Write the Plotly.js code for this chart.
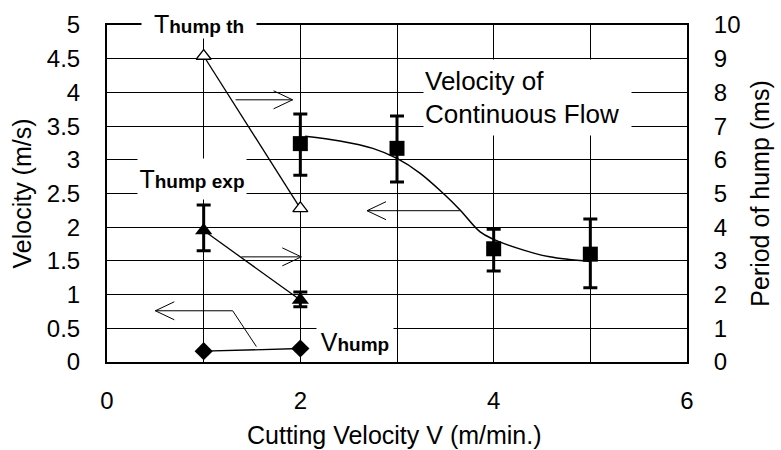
<!DOCTYPE html>
<html>
<head>
<meta charset="utf-8">
<script src="https://cdn.plot.ly/plotly-3.0.1.min.js"></script>
<style>html,body{margin:0;padding:0;background:#fff;}#chart{width:781px;height:450px;}</style>
</head>
<body>
<div id="chart"></div>
<script>
// ---- data ----
const flowX = [2, 3, 4, 5];
const flowV = [3.24, 3.17, 1.68, 1.60];
const flowErrPlus = [0.44, 0.48, 0.29, 0.52];
const flowErrMinus = [0.47, 0.50, 0.33, 0.50];

const fitX = [2.05, 2.41, 2.75, 3.0, 3.24, 3.48, 3.65, 3.86, 4.0, 4.31, 4.58, 5.0];
const fitY = [3.35, 3.28, 3.17, 3.02, 2.80, 2.50, 2.26, 1.93, 1.82, 1.66, 1.56, 1.49];

const humpX = [1, 2];
const vHump = [0.16, 0.20];
const tHumpExp = [3.90, 1.84];
const tHumpExpPlus = [0.76, 0.24];
const tHumpExpMinus = [0.60, 0.20];
const tHumpTh = [9.08, 4.56];

const xTicks = [0, 2, 4, 6];

const FONT = 'Liberation Sans, Arial, sans-serif';

const traces = [
  {x: fitX, y: fitY, mode: 'lines', line: {color: '#000', width: 1.5, shape: 'spline', smoothing: 1}, hoverinfo: 'skip'},
  {x: humpX, y: tHumpTh, yaxis: 'y2', mode: 'lines+markers',
   line: {color: '#000', width: 1.3},
   marker: {symbol: 'triangle-up', size: 13, color: '#fff', line: {color: '#000', width: 1.3}}},
  {x: humpX, y: tHumpExp, yaxis: 'y2', mode: 'lines+markers',
   line: {color: '#000', width: 1.3},
   marker: {symbol: 'triangle-up', size: 15, color: '#000'},
   error_y: {type: 'data', symmetric: false, array: tHumpExpPlus, arrayminus: tHumpExpMinus, color: '#000', thickness: 3, width: 7}},
  {x: humpX, y: vHump, mode: 'lines+markers',
   line: {color: '#000', width: 1.3},
   marker: {symbol: 'diamond', size: 14, color: '#000'}},
  {x: flowX, y: flowV, mode: 'markers',
   marker: {symbol: 'square', size: 15, color: '#000'},
   error_y: {type: 'data', symmetric: false, array: flowErrPlus, arrayminus: flowErrMinus, color: '#000', thickness: 3, width: 7}}
];

const shapes = [
  {type: 'line', xref: 'x', yref: 'y', x0: 1.30, y0: 0.76, x1: 1.545, y1: 0.23, line: {color: '#000', width: 1}}
];

// arrow = shaft in data coords + open chevron head sized in pixels
function addArrow(tipX, tipY, tailX, tailY) {
  const dir = tailX > tipX ? 1 : -1; // +1 means arrow points left
  shapes.push({type: 'line', xref: 'x', yref: 'y', x0: tailX, y0: tailY, x1: tipX, y1: tipY, line: {color: '#000', width: 1}});
  shapes.push({type: 'path', xref: 'x', yref: 'y', xsizemode: 'pixel', ysizemode: 'pixel', xanchor: tipX, yanchor: tipY,
    path: 'M ' + (19 * dir) + ',9 L 0,0 L ' + (19 * dir) + ',-9', line: {color: '#000', width: 1}});
}
addArrow(1.92, 3.89, 1.33, 3.89);
addArrow(2.69, 2.245, 3.65, 2.245);
addArrow(2.01, 1.56, 1.39, 1.56);
addArrow(0.50, 0.76, 1.30, 0.76);

const annotations = [
  {x: 0.95, y: 1.003, xref: 'x', yref: 'paper', xanchor: 'center', yanchor: 'middle', showarrow: false, bgcolor: '#fff', width: 112, height: 27,
   text: 'T<b><span style="font-size:19px">hump th</span></b>', font: {family: FONT, size: 25, color: '#000'}},
  {x: 0.88, y: 2.72, xref: 'x', yref: 'y', showarrow: false, bgcolor: '#fff', width: 106, height: 38,
   text: 'T<b><span style="font-size:19px">hump exp</span></b>', font: {family: FONT, size: 25, color: '#000'}},
  {x: 2.57, y: 0.30, xref: 'x', yref: 'y', showarrow: false, bgcolor: '#fff', width: 74, height: 32,
   text: 'V<b><span style="font-size:19px">hump</span></b>', font: {family: FONT, size: 25, color: '#000'}},
  {x: 4.35, y: 3.93, xref: 'x', yref: 'y', showarrow: false, bgcolor: '#fff', width: 205, height: 73, align: 'left',
   text: 'Velocity of<br>Continuous Flow', font: {family: FONT, size: 26, color: '#000'}},
  {x: 0.495, y: -0.218, xref: 'paper', yref: 'paper', xanchor: 'center', yanchor: 'middle', showarrow: false,
   text: 'Cutting Velocity V (m/min.)', font: {family: FONT, size: 25, color: '#000'}}
];

const layout = {
  width: 781, height: 450,
  margin: {l: 107, r: 94, t: 25, b: 88},
  paper_bgcolor: '#fff', plot_bgcolor: '#fff',
  showlegend: false,
  font: {family: FONT, size: 24, color: '#000'},
  xaxis: {range: [0, 6], tickvals: xTicks, ticktext: xTicks.map(String), ticks: '', showgrid: true, gridcolor: '#000', gridwidth: 1,
    minor: {dtick: 1, showgrid: true, gridcolor: '#000', gridwidth: 1},
    showline: true, linecolor: '#000', linewidth: 2, mirror: true, zeroline: false, ticklabelstandoff: 16},
  yaxis: {range: [0, 5], dtick: 0.5, ticks: '', showgrid: true, gridcolor: '#000', gridwidth: 1,
    showline: true, linecolor: '#000', linewidth: 2, mirror: true, zeroline: false, ticklabelstandoff: 20,
    title: {text: 'Velocity (m/s)', font: {size: 25}, standoff: 8}},
  yaxis2: {range: [0, 10], dtick: 1, overlaying: 'y', side: 'right', ticks: '', showgrid: false, zeroline: false,
    showline: true, linecolor: '#000', linewidth: 2, ticklabelstandoff: 20,
    title: {text: 'Period of hump (ms)', font: {size: 25}, standoff: 12}},
  annotations: annotations,
  shapes: shapes
};

Plotly.newPlot('chart', traces, layout, {staticPlot: true, displayModeBar: false});
</script>
</body>
</html>
